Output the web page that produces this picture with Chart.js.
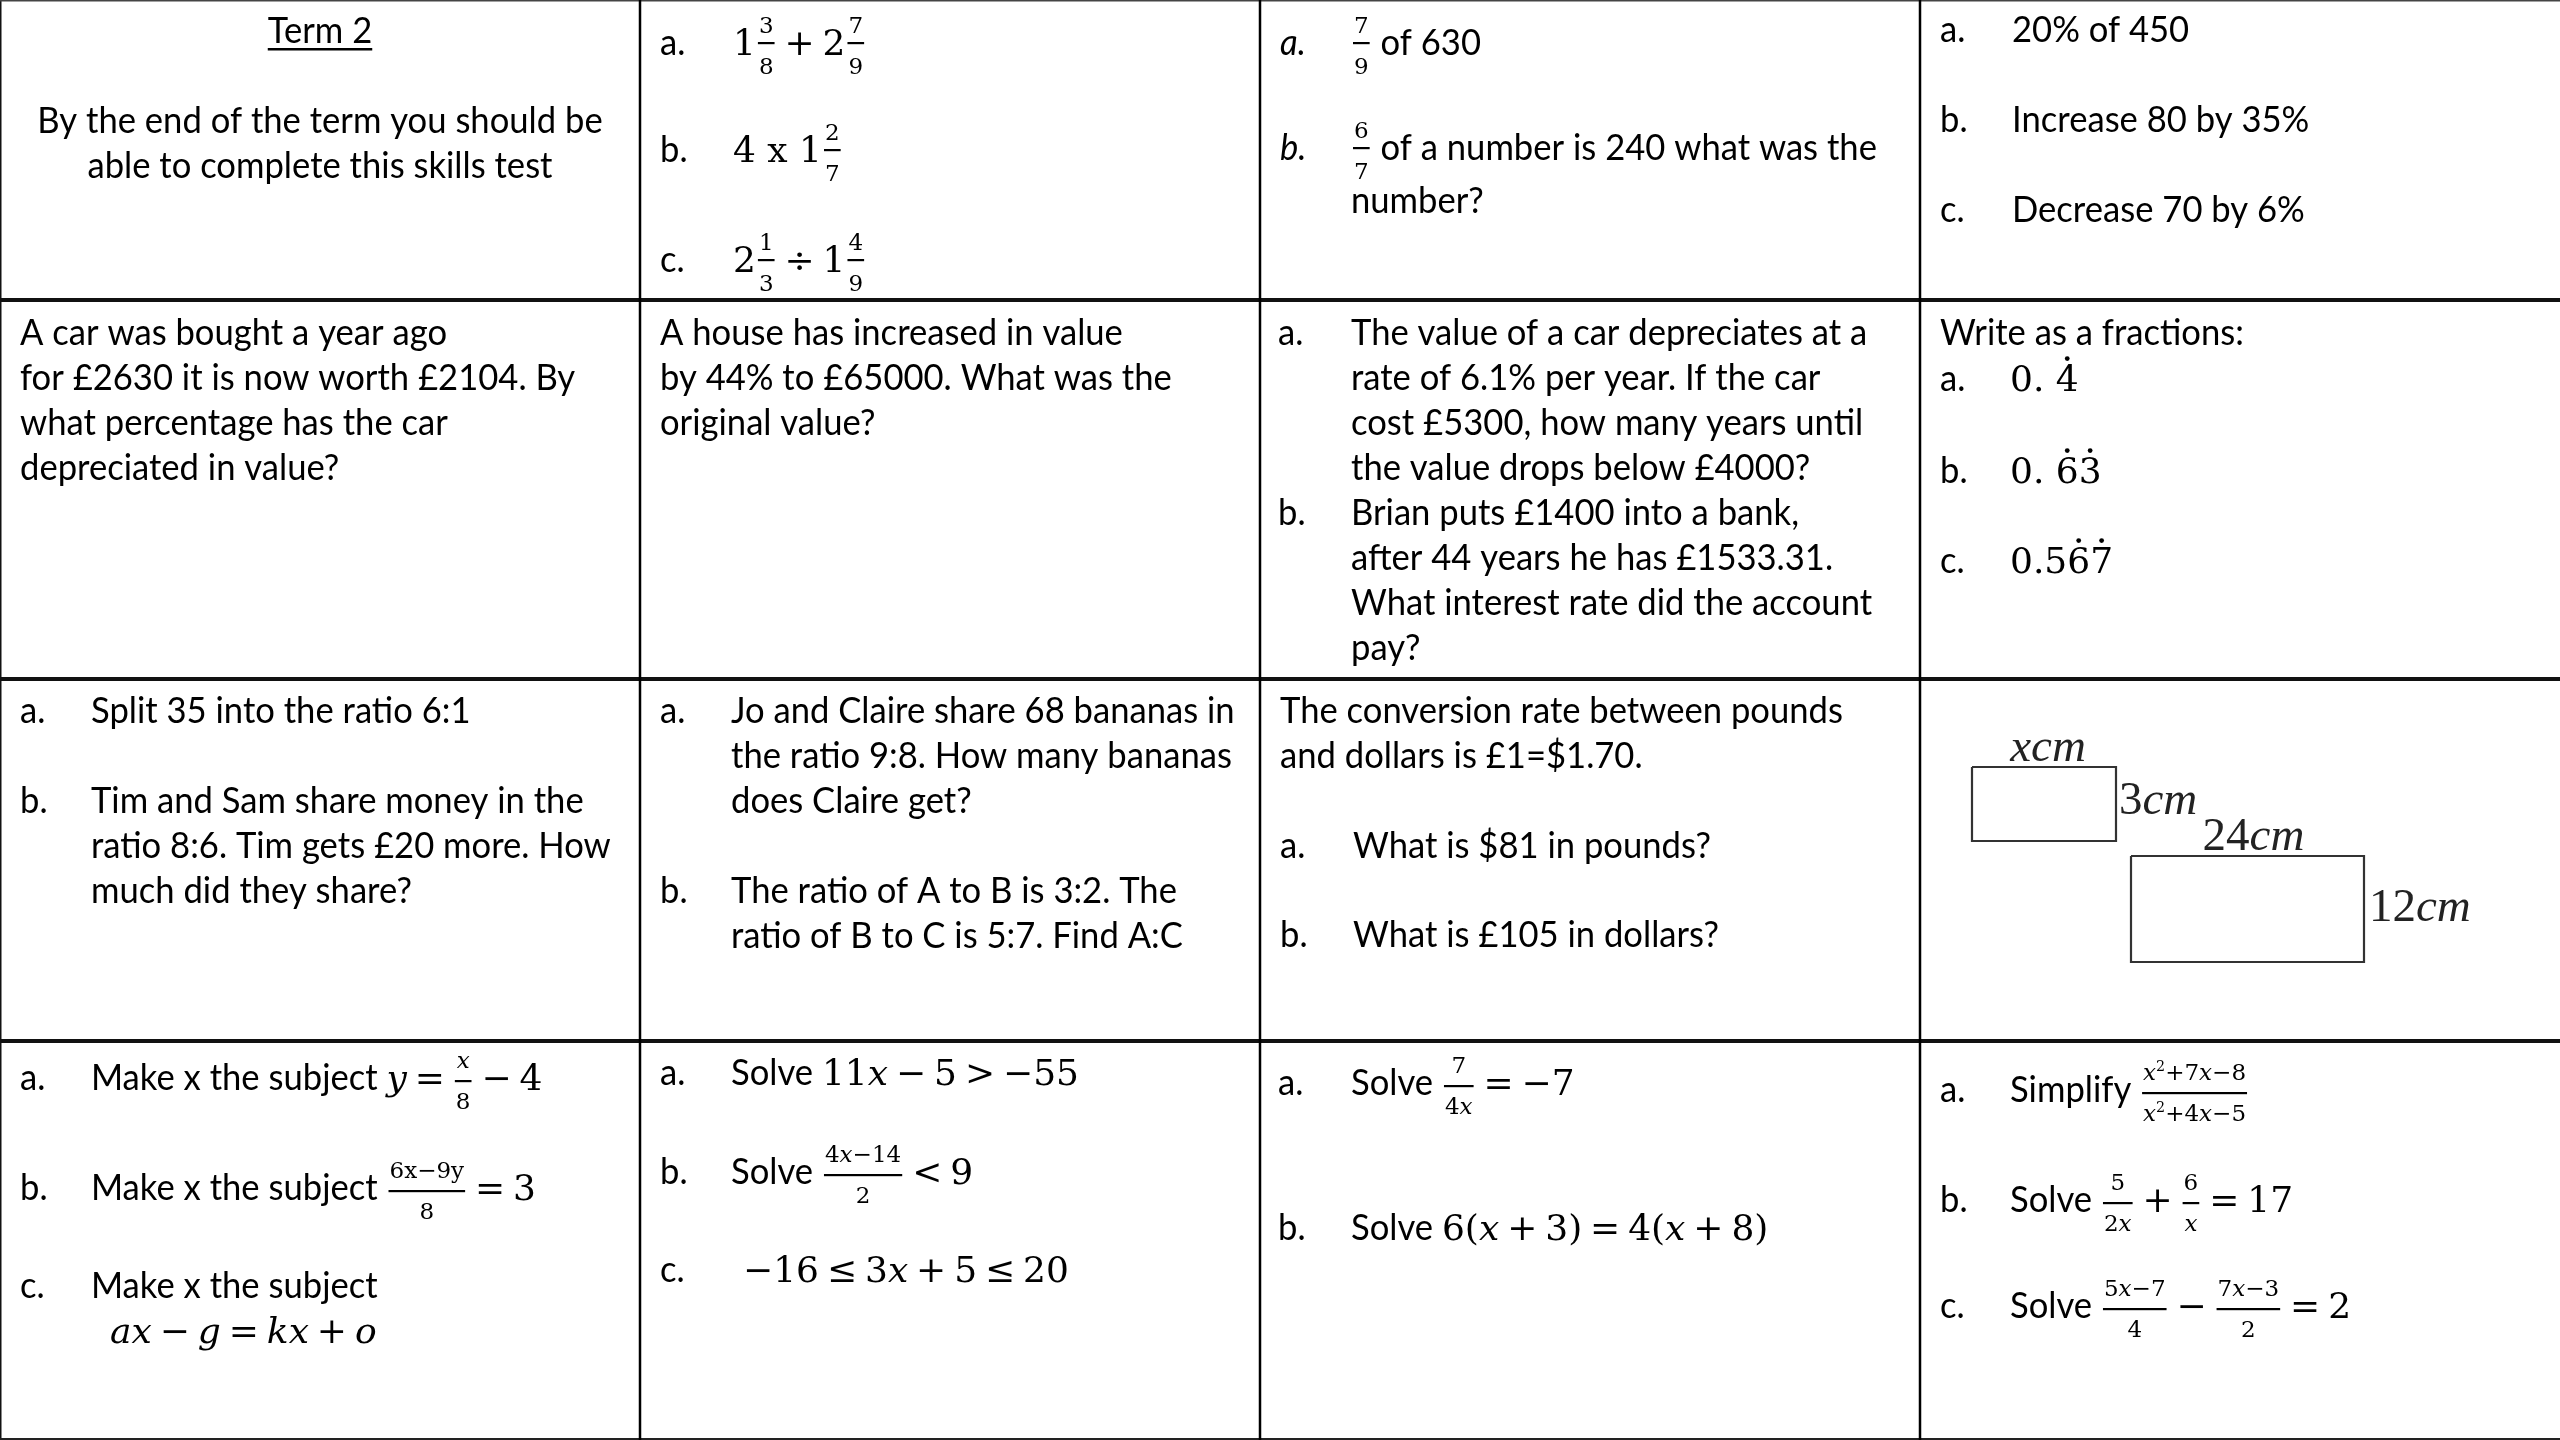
<!DOCTYPE html>
<html>
<head>
<meta charset="utf-8">
<title>Term 2 skills test</title>
<script src="https://cdn.jsdelivr.net/npm/chart.js@4.4.1/dist/chart.umd.min.js"></script>
<style>
  html, body { margin: 0; padding: 0; background: #fff; }
  #sheet { display: block; }
</style>
</head>
<body>
<canvas id="sheet" width="2560" height="1440"></canvas>
<script>
// table grid, in sheet pixels
const colEdges = [0, 640, 1260, 1920, 2560];
const rowEdges = [0, 300, 679, 1041, 1440];

// similar rectangles diagram: [left, top, right, bottom]
const diagramBoxes = [
  [1972, 767, 2116, 841],
  [2131, 856, 2364, 962]
];
const diagramLabels = ["x", "3", "24", "12"];

// cell texts
const introLines = ["By the end of the term you should be", "able to complete this skills test"];
const carLines = ["A car was bought a year ago", "for £2630 it is now worth £2104. By", "what percentage has the car", "depreciated in value?"];
const houseLines = ["A house has increased in value", "by 44% to £65000. What was the", "original value?"];
const depLinesA = ["The value of a car depreciates at a", "rate of 6.1% per year. If the car", "cost £5300, how many years until", "the value drops below £4000?"];
const depLinesB = ["Brian puts £1400 into a bank,", "after 44 years he has £1533.31.", "What interest rate did the account", "pay?"];
const percentLines = ["20% of 450", "Increase 80 by 35%", "Decrease 70 by 6%"];
const ratioLinesB = ["Tim and Sam share money in the", "ratio 8:6. Tim gets £20 more. How", "much did they share?"];
const bananaLines = ["Jo and Claire share 68 bananas in", "the ratio 9:8. How many bananas", "does Claire get?"];
const abcLines = ["The ratio of A to B is 3:2. The", "ratio of B to C is 5:7. Find A:C"];
const convLines = ["The conversion rate between pounds", "and dollars is £1=$1.70."];

const BODY = 'Lato, "Open Sans", sans-serif';
const MATH = '"DejaVu Serif", serif';
const DIAG = '"Liberation Serif", serif';
const BS = 37, MS = 36, LH = 45;
const CAL_W = 427; // width of carLines[0] in the original font
let SX = 1;

const T = s => ({ t: 'txt', s });
const TI = s => ({ t: 'txt', s, it: true });
const M = s => ({ t: 'm', s });
const V = s => ({ t: 'mi', s });
const O = s => ({ t: 'op', s });
const F = (n, d, style) => ({ t: 'fr', n, d, style: style || 'std' });
const SUP = s => ({ t: 'sup', s });
const DOT = (s, idx) => ({ t: 'dot', s, idx });

const fracStyles = {
  std: { axis: 9, num: 13, den: 28 },
  tall: { axis: 12, num: 10, den: 31 }
};

const items = [];
const add = (x, y, parts, extra) => items.push(Object.assign({ x, y, parts }, extra || {}));
const addLines = (x, y0, lines) => lines.forEach((s, i) => add(x, y0 + i * LH, [T(s)]));

// row 1
add(320, 43, [T('Term 2')], { align: 'center', underline: true });
introLines.forEach((s, i) => add(320, 133 + i * LH, [T(s)], { align: 'center' }));
add(660, 55, [T('a.')]);
add(733, 55, [M('1'), F([M('3')], [M('8')], 'tall'), O('+'), M('2'), F([M('7')], [M('9')], 'tall')]);
add(660, 162, [T('b.')]);
add(733, 162, [M('4 x 1'), F([M('2')], [M('7')], 'tall')]);
add(660, 272, [T('c.')]);
add(733, 272, [M('2'), F([M('1')], [M('3')], 'tall'), O('÷'), M('1'), F([M('4')], [M('9')], 'tall')]);
add(1280, 55, [TI('a.')]);
add(1351, 55, [F([M('7')], [M('9')], 'tall'), T(' of 630')]);
add(1280, 160, [TI('b.')]);
add(1351, 160, [F([M('6')], [M('7')], 'tall'), T(' of a number is 240 what was the')]);
add(1351, 213, [T('number?')]);
['a.', 'b.', 'c.'].forEach((l, i) => {
  add(1940, 42 + i * 90, [T(l)]);
  add(2012, 42 + i * 90, [T(percentLines[i])]);
});

// row 2
addLines(20, 345, carLines);
addLines(660, 345, houseLines);
add(1278, 345, [T('a.')]);
addLines(1351, 345, depLinesA);
add(1278, 525, [T('b.')]);
addLines(1351, 525, depLinesB);
add(1940, 345, [T('Write as a fractions:')]);
add(1940, 391, [T('a.')]);
add(2010, 391, [DOT('0. 4', [3])]);
add(1940, 483, [T('b.')]);
add(2010, 483, [DOT('0. 63', [3, 4])]);
add(1940, 573, [T('c.')]);
add(2010, 573, [DOT('0.567', [3, 4])]);

// row 3
add(20, 723, [T('a.')]);
add(91, 723, [T('Split 35 into the ratio 6:1')]);
add(20, 813, [T('b.')]);
addLines(91, 813, ratioLinesB);
add(660, 723, [T('a.')]);
addLines(731, 723, bananaLines);
add(660, 903, [T('b.')]);
addLines(731, 903, abcLines);
addLines(1280, 723, convLines);
add(1280, 858, [T('a.')]);
add(1353, 858, [T('What is $81 in pounds?')]);
add(1280, 947, [T('b.')]);
add(1353, 947, [T('What is £105 in dollars?')]);

// row 4
add(20, 1090, [T('a.')]);
add(91, 1090, [T('Make x the subject '), V('y'), O('='), F([V('x')], [M('8')]), O('−'), M('4')]);
add(20, 1200, [T('b.')]);
add(91, 1200, [T('Make x the subject '), F([M('6x−9y')], [M('8')]), O('='), M('3')]);
add(20, 1298, [T('c.')]);
add(91, 1298, [T('Make x the subject')]);
add(110, 1343, [V('ax'), O('−'), V('g'), O('='), V('kx'), O('+'), V('o')]);
add(660, 1085, [T('a.')]);
add(731, 1085, [T('Solve '), M('11'), V('x'), O('−'), M('5'), O('>'), M('−55')]);
add(660, 1184, [T('b.')]);
add(731, 1184, [T('Solve '), F([M('4'), V('x'), M('−14')], [M('2')]), O('<'), M('9')]);
add(660, 1282, [T('c.')]);
add(743, 1282, [M('−16'), O('≤'), M('3'), V('x'), O('+'), M('5'), O('≤'), M('20')]);
add(1278, 1095, [T('a.')]);
add(1351, 1095, [T('Solve '), F([M('7')], [M('4'), V('x')]), O('='), M('−7')]);
add(1278, 1240, [T('b.')]);
add(1351, 1240, [T('Solve '), M('6('), V('x'), O('+'), M('3)'), O('='), M('4('), V('x'), O('+'), M('8)')]);
add(1940, 1102, [T('a.')]);
add(2010, 1102, [T('Simplify '), F([V('x'), SUP([M('2')]), M('+7'), V('x'), M('−8')], [V('x'), SUP([M('2')]), M('+4'), V('x'), M('−5')])]);
add(1940, 1212, [T('b.')]);
add(2010, 1212, [T('Solve '), F([M('5')], [M('2'), V('x')]), O('+'), F([M('6')], [V('x')]), O('='), M('17')]);
add(1940, 1318, [T('c.')]);
add(2010, 1318, [T('Solve '), F([M('5'), V('x'), M('−7')], [M('4')]), O('−'), F([M('7'), V('x'), M('−3')], [M('2')]), O('='), M('2')]);

function fontOf(p, sc) {
  if (p.t === 'txt') return (p.it ? 'italic ' : '') + (BS * sc) + 'px ' + BODY;
  if (p.t === 'mi') return 'italic ' + (MS * sc) + 'px ' + MATH;
  return (MS * sc) + 'px ' + MATH;
}

function seqWidth(ctx, parts, sc) {
  return parts.reduce((w, p) => w + partWidth(ctx, p, sc), 0);
}

function partWidth(ctx, p, sc) {
  if (p.t === 'sup') return seqWidth(ctx, p.s, sc * 0.62);
  if (p.t === 'fr') {
    const k = sc * 0.64;
    return Math.max(seqWidth(ctx, p.n, k), seqWidth(ctx, p.d, k)) + 6;
  }
  ctx.font = fontOf(p, sc);
  const w = ctx.measureText(p.s).width;
  if (p.t === 'txt') return w * SX;
  if (p.t === 'op') return w + MS * sc * 0.44;
  return w;
}

function drawSeq(ctx, parts, x, y, sc) {
  parts.forEach(p => { x = drawPart(ctx, p, x, y, sc); });
  return x;
}

function drawPart(ctx, p, x, y, sc) {
  const w = partWidth(ctx, p, sc);
  const ms = MS * sc;
  if (p.t === 'txt') {
    ctx.font = fontOf(p, sc);
    ctx.save();
    ctx.translate(x, y);
    ctx.scale(SX, 1);
    ctx.fillText(p.s, 0, 0);
    ctx.restore();
  } else if (p.t === 'm' || p.t === 'mi') {
    ctx.font = fontOf(p, sc);
    ctx.fillText(p.s, x, y);
  } else if (p.t === 'op') {
    ctx.font = fontOf(p, sc);
    ctx.fillText(p.s, x + ms * 0.22, y);
  } else if (p.t === 'dot') {
    ctx.font = fontOf(p, sc);
    ctx.fillText(p.s, x, y);
    p.idx.forEach(i => {
      const a = ctx.measureText(p.s.slice(0, i)).width;
      const cw = ctx.measureText(p.s[i]).width;
      ctx.beginPath();
      ctx.arc(x + a + cw / 2, y - ms * 0.9, 2.4, 0, Math.PI * 2);
      ctx.fill();
    });
  } else if (p.t === 'sup') {
    drawSeq(ctx, p.s, x, y - ms * 0.38, sc * 0.62);
  } else if (p.t === 'fr') {
    const st = fracStyles[p.style];
    const k = sc * 0.64;
    const nw = seqWidth(ctx, p.n, k), dw = seqWidth(ctx, p.d, k);
    const bar = y - st.axis;
    ctx.fillRect(x + 2, bar - 1, w - 4, 2.2);
    drawSeq(ctx, p.n, x + (w - nw) / 2, bar - st.num, k);
    drawSeq(ctx, p.d, x + (w - dw) / 2, bar + st.den, k);
  }
  return x + w;
}

const sheetText = {
  id: 'sheetText',
  afterDraw(chart) {
    const ctx = chart.ctx;
    const xs = chart.scales.x, ys = chart.scales.y;
    ctx.save();
    ctx.fillStyle = '#000';
    ctx.textBaseline = 'alphabetic';
    ctx.textAlign = 'left';
    ctx.font = BS + 'px ' + BODY;
    SX = CAL_W / ctx.measureText(carLines[0]).width;

    items.forEach(it => {
      let x = xs.getPixelForValue(it.x);
      const y = ys.getPixelForValue(it.y);
      const w = seqWidth(ctx, it.parts, 1);
      if (it.align === 'center') x -= w / 2;
      drawSeq(ctx, it.parts, x, y, 1);
      if (it.underline) ctx.fillRect(x, y + 5, w, 2.5);
    });

    // diagram labels
    ctx.fillStyle = '#222';
    const lab = (num, px, py, center) => {
      const up = '47px ' + DIAG, itf = 'italic 47px ' + DIAG;
      const isVar = /[a-z]/.test(num);
      ctx.font = isVar ? itf : up;
      const w1 = ctx.measureText(num).width;
      ctx.font = itf;
      const w2 = ctx.measureText('cm').width;
      let x = xs.getPixelForValue(px);
      if (center) x -= (w1 + w2) / 2;
      const y = ys.getPixelForValue(py);
      ctx.font = isVar ? itf : up;
      ctx.fillText(num, x, y);
      ctx.font = itf;
      ctx.fillText('cm', x + w1, y);
    };
    const [s, b] = diagramBoxes;
    lab(diagramLabels[0], (s[0] + s[2]) / 2 + 4, s[1] - 6, true);
    lab(diagramLabels[1], s[2] + 3, (s[1] + s[3]) / 2 + 10, false);
    lab(diagramLabels[2], (b[0] + b[2]) / 2 + 6, b[1] - 6, true);
    lab(diagramLabels[3], b[2] + 5, (b[1] + b[3]) / 2 + 12, false);
    ctx.restore();
  }
};

// border segments built from the grid
const W = colEdges[colEdges.length - 1], H = rowEdges[rowEdges.length - 1];
const segs = [];
colEdges.slice(1, -1).forEach(x => segs.push({ pts: [[x, 0], [x, H]], w: 2.5, c: '#000' }));
rowEdges.slice(1, -1).forEach(y => segs.push({ pts: [[0, y], [W, y]], w: 4, c: '#111' }));
segs.push({ pts: [[0, 0], [W, 0]], w: 3, c: '#444' });
segs.push({ pts: [[0, H], [W, H]], w: 4, c: '#222' });
segs.push({ pts: [[0, 0], [0, H]], w: 3, c: '#111' });
diagramBoxes.forEach(([l, t, r, b]) => segs.push({ pts: [[l, t], [r, t], [r, b], [l, b], [l, t]], w: 2.2, c: '#333' }));

new Chart(document.getElementById('sheet'), {
  type: 'scatter',
  data: {
    datasets: segs.map(s => ({
      data: s.pts.map(([x, y]) => ({ x, y })),
      showLine: true,
      borderColor: s.c,
      borderWidth: s.w,
      borderJoinStyle: 'miter',
      pointRadius: 0,
      pointHoverRadius: 0,
      fill: false,
      tension: 0,
      clip: false
    }))
  },
  options: {
    responsive: false,
    animation: false,
    devicePixelRatio: 1,
    events: [],
    layout: { padding: 0 },
    plugins: { legend: { display: false }, tooltip: { enabled: false } },
    scales: {
      x: { type: 'linear', min: 0, max: W, display: false },
      y: { type: 'linear', min: 0, max: H, reverse: true, display: false }
    }
  },
  plugins: [sheetText]
});
</script>
</body>
</html>
